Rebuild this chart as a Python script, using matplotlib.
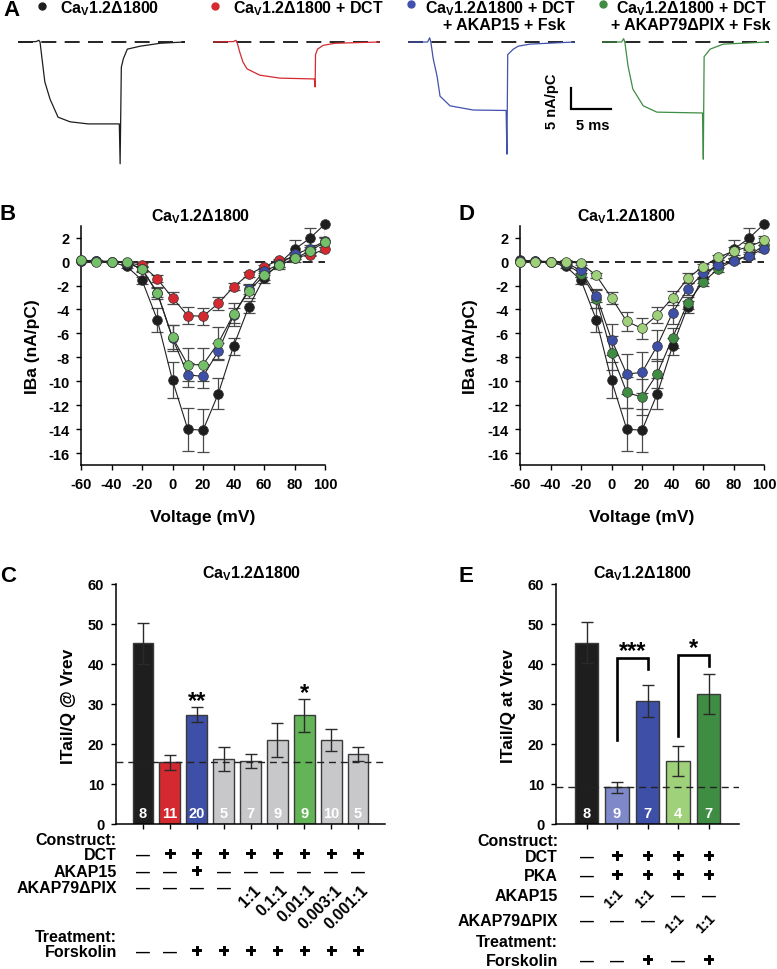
import numpy as np
import matplotlib
matplotlib.use('Agg')
import matplotlib.pyplot as plt
import matplotlib.patheffects as pe
from matplotlib.transforms import blended_transform_factory as btf

plt.rcParams.update({
    'font.family': ['Liberation Sans', 'DejaVu Sans'],
    'font.weight': 'bold',
    'axes.unicode_minus': False,
    'mathtext.fontset': 'custom',
    'mathtext.rm': 'Liberation Sans:bold',
    'mathtext.it': 'Liberation Sans:bold',
    'mathtext.bf': 'Liberation Sans:bold',
    'axes.linewidth': 1.1,
    'xtick.major.width': 1.0,
    'ytick.major.width': 1.0,
    'xtick.major.size': 3.5,
    'ytick.major.size': 3.5,
    'xtick.direction': 'out',
    'ytick.direction': 'out',
    'xtick.labelsize': 10.5,
    'ytick.labelsize': 10.5,
})

TITLE = 'Ca$_\\mathrm{V}$1.2Δ1800'

# ---------------- Panel A: representative traces (ms, nA/pC) ----------------
trace_labels = [
    ['Ca$_\\mathrm{V}$1.2Δ1800'],
    ['Ca$_\\mathrm{V}$1.2Δ1800 + DCT'],
    ['Ca$_\\mathrm{V}$1.2Δ1800 + DCT', '+ AKAP15 + Fsk'],
    ['Ca$_\\mathrm{V}$1.2Δ1800 + DCT', '+ AKAP79ΔPIX + Fsk'],
]
trace_colors = ['#1e1e1e', '#d42a2f', '#4152ad', '#3f8c43']
t_black = [-2.75, -0.5, -0.15, 0.0, 0.25, 0.6, 1.25, 2.25, 3.75, 6.0, 9.9, 10.0, 10.15, 10.4, 10.9, 12.5, 15.0, 18.0]
i_black = [0.0, 0.1, 0.4, 0.0, -4.0, -9.5, -13.6, -17.9, -19.0, -19.5, -19.5, -29.0, -6.0, -4.0, -1.7, -1.0, -0.3, 0.0]
t_red = [-2.75, -0.2, 0.1, 0.25, 0.6, 1.0, 1.5, 3.1, 5.6, 9.9, 10.0, 10.05, 10.3, 11.0, 12.5, 18.0]
i_red = [0.0, 0.1, 0.4, 0.0, -2.5, -4.8, -6.4, -7.9, -8.6, -8.8, -10.7, -3.0, -1.7, -0.8, -0.3, 0.0]
t_blue = [-2.75, -0.3, -0.05, 0.1, 0.4, 0.875, 1.25, 2.5, 5.4, 9.5, 9.6, 9.7, 10.4, 11.0, 12.5, 18.0]
i_blue = [0.0, 0.0, 1.0, 0.0, -4.0, -8.1, -12.9, -15.2, -16.2, -16.3, -26.7, -3.0, -1.7, -1.0, -0.5, 0.0]
t_green = [-2.75, -0.3, -0.05, 0.1, 0.5, 1.1, 2.4, 4.1, 9.8, 9.9, 10.0, 10.75, 12.4, 18.0]
i_green = [0.0, 0.0, 0.8, 0.0, -5.7, -11.2, -15.2, -16.7, -16.9, -27.9, -3.5, -1.7, -0.5, 0.0]
traces = [(t_black, i_black), (t_red, i_red), (t_blue, i_blue), (t_green, i_green)]
scale_ms = 5
scale_current = 5

# ---------------- Panels B & D: I-V relations ----------------
volt = [-60, -50, -40, -30, -20, -10, 0, 10, 20, 30, 40, 50, 60, 70, 80, 90, 100]
iv_black = [0.1, 0.05, -0.05, -0.4, -1.55, -4.85, -9.93, -14.0, -14.1, -11.05, -7.08, -3.78, -1.35, -0.15, 1.02, 1.94, 3.14]
iv_black_e = [0.05, 0.05, 0.05, 0.15, 0.3, 1.0, 1.5, 1.8, 1.8, 1.3, 0.7, 0.5, 0.4, 0.3, 0.8, 0.9, 1.2]
iv_red = [0.05, 0.05, 0.0, -0.1, -0.3, -1.44, -3.03, -4.51, -4.57, -3.5, -2.11, -1.07, -0.43, 0.13, 0.32, 0.58, 1.02]
iv_red_e = [0.05, 0.05, 0.05, 0.1, 0.15, 0.3, 0.5, 0.7, 0.7, 0.55, 0.3, 0.2, 0.15, 0.1, 0.1, 0.15, 0.2]
ivB_blue = [0.05, 0.05, 0.0, -0.1, -0.6, -2.6, -6.4, -9.46, -9.6, -7.5, -4.5, -2.33, -0.8, -0.24, 0.6, 1.07, 1.72]
ivB_blue_e = [0.05, 0.05, 0.05, 0.1, 0.2, 0.4, 1.1, 1.0, 1.0, 0.7, 0.6, 0.4, 0.3, 0.2, 0.2, 0.3, 0.35]
ivB_green = [0.1, 0.0, 0.0, -0.05, -0.66, -2.6, -6.33, -8.62, -8.62, -6.8, -4.42, -2.47, -1.16, -0.32, 0.26, 0.88, 1.63]
ivB_green_e = [0.05, 0.05, 0.05, 0.1, 0.2, 0.5, 1.0, 1.4, 1.4, 1.3, 1.0, 0.6, 0.4, 0.3, 0.3, 0.3, 0.4]
ivD_dgreen = [0.0, 0.0, -0.05, -0.2, -1.0, -3.1, -7.64, -10.93, -11.33, -9.37, -6.38, -3.45, -1.72, -0.6, 0.1, 0.5, 1.35]
ivD_dgreen_e = [0.05, 0.05, 0.05, 0.1, 0.3, 0.8, 1.4, 1.3, 1.5, 1.2, 0.8, 0.5, 0.3, 0.3, 0.2, 0.3, 0.3]
ivD_blue = [0.05, 0.05, 0.0, -0.1, -0.74, -2.84, -6.52, -9.4, -9.26, -7.03, -4.29, -2.28, -0.99, -0.32, 0.07, 0.46, 1.08]
ivD_blue_e = [0.05, 0.05, 0.05, 0.1, 0.2, 0.5, 1.3, 1.7, 1.7, 1.3, 0.9, 0.5, 0.3, 0.2, 0.2, 0.2, 0.3]
ivD_lgreen = [0.0, 0.0, 0.0, 0.0, -0.15, -1.16, -3.03, -5.0, -5.58, -4.46, -3.03, -1.39, -0.41, 0.35, 0.88, 1.24, 1.77]
ivD_lgreen_e = [0.05, 0.05, 0.05, 0.1, 0.1, 0.2, 0.5, 0.8, 0.9, 0.7, 0.6, 0.4, 0.2, 0.2, 0.3, 0.3, 0.4]
volt_ticks = [-60, -40, -20, 0, 20, 40, 60, 80, 100]
iv_ticks = [2, 0, -2, -4, -6, -8, -10, -12, -14, -16]

C_BLACK, C_RED, C_BLUE = '#1e1e1e', '#d42a2f', '#3d4fa6'
C_LGREEN, C_DGREEN, C_LBLUE, C_GRAY, C_GREEN = '#9fd07a', '#3f8c43', '#7f89c9', '#c8c8cb', '#63b457'

# ---------------- Panel C ----------------
c_vals = [45.2, 15.4, 27.3, 16.2, 15.8, 21.0, 27.2, 21.0, 17.5]
c_errs = [5.1, 1.9, 1.9, 3.0, 1.8, 4.3, 4.1, 2.7, 1.8]
c_n = [8, 11, 20, 5, 7, 9, 9, 10, 5]
c_colors = [C_BLACK, C_RED, C_BLUE, C_GRAY, C_GRAY, C_GRAY, C_GREEN, C_GRAY, C_GRAY]
c_stars = {2: '**', 6: '*'}
c_rows = [
    ('DCT', ['—', '+', '+', '+', '+', '+', '+', '+', '+']),
    ('AKAP15', ['—', '—', '+', '—', '—', '—', '—', '—', '—']),
    ('AKAP79ΔPIX', ['—', '—', '—', '—', '1:1', '0.1:1', '0.01:1', '0.003:1', '0.001:1']),
    ('Forskolin', ['—', '—', '+', '+', '+', '+', '+', '+', '+']),
]
# ---------------- Panel E ----------------
e_vals = [45.3, 9.2, 30.8, 15.8, 32.4]
e_errs = [5.1, 1.4, 4.0, 3.7, 5.0]
e_n = [8, 9, 7, 4, 7]
e_colors = [C_BLACK, C_LBLUE, C_BLUE, C_LGREEN, C_DGREEN]
e_brackets = [(1, 2, 21.0, 41.4, 38.7, '***'), (3, 4, 22.0, 42.3, 39.4, '*')]
e_rows = [
    ('DCT', ['—', '+', '+', '+', '+']),
    ('PKA', ['—', '+', '+', '+', '+']),
    ('AKAP15', ['—', '1:1', '1:1', '—', '—']),
    ('AKAP79ΔPIX', ['—', '—', '—', '1:1', '1:1']),
    ('Forskolin', ['—', '—', '+', '—', '+']),
]
bar_ticks = [0, 10, 20, 30, 40, 50, 60]

# ============================================================
W, H = 777, 970
fig = plt.figure(figsize=(W / 100, H / 100), dpi=100)


def rect(l, t, r, b):
    return [l / W, 1 - b / H, (r - l) / W, (b - t) / H]


ov = fig.add_axes([0, 0, 1, 1], zorder=10)
ov.set_xlim(0, W)
ov.set_ylim(H, 0)
ov.axis('off')
ov.patch.set_alpha(0)


def T(x, y, s, **kw):
    kw.setdefault('ha', 'center')
    kw.setdefault('va', 'center')
    ov.text(x, y, s, **kw)


# panel letters
for L, x, y in [('A', 11, 11), ('B', 8, 215), ('D', 467, 215), ('C', 8, 577), ('E', 466, 577)]:
    T(x, y, L, fontsize=16)

# ---- Panel A ----
trace_left = [18, 213, 408, 602]
bullet_xy = [(42, 7), (215, 7), (411, 5), (603, 5)]
label_xy = [[(60, 13.5, 'left')], [(233, 13.5, 'left')],
            [(500, 13.5, 'center'), (504, 30, 'center')],
            [(691, 13.5, 'center'), (691, 30, 'center')]]
axA = []
for k in range(4):
    a = fig.add_axes(rect(trace_left[k], 33, trace_left[k] + 167, 170))
    a.set_xlim(-2.75, 18.1)
    a.set_ylim(-(170 - 43) / 4.2, (43 - 33) / 4.2)
    a.axis('off')
    a.axhline(0, color='black', lw=1.2, ls=(0, (9, 5)))
    a.plot(traces[k][0], traces[k][1], color=trace_colors[k], lw=0.9)
    axA.append(a)
    ov.plot(*bullet_xy[k], 'o', color=trace_colors[k], ms=5)
    for (x, y, ha), s in zip(label_xy[k], trace_labels[k]):
        ov.text(x, y, s, ha=ha, va='baseline', fontsize=11.5)

# scale bar drawn in data units of the blue trace axes
sb = axA[2]
x0, y0 = 17.6, -16.0
sb.plot([x0, x0, x0 + scale_ms], [y0 + scale_current, y0, y0], color='black', lw=1.6,
        clip_on=False, solid_joinstyle='miter')
T(552, 101, f'{scale_current} nA/pC', rotation=90, fontsize=10.5)
T(593, 126, f'{scale_ms} ms', fontsize=10.5)


# ---- Panels B & D ----
def iv_axes(left, series):
    ax = fig.add_axes(rect(left, 226.7, left + 244, 466))
    ax.set_xlim(-60, 100)
    ax.set_ylim(-17, 3)
    for s in ['top', 'right']:
        ax.spines[s].set_visible(False)
    ax.set_xticks(volt_ticks)
    ax.set_yticks(iv_ticks)
    ax.tick_params(axis='both', pad=5)
    ax.axhline(0, color='black', lw=1.2, ls=(0, (6, 3.5)), zorder=1)
    for y, e, c in series:
        ax.errorbar(volt, y, yerr=e, fmt='none', ecolor='#4a4a4a', elinewidth=0.9,
                    capsize=4, capthick=0.9, zorder=2)
    for y, e, c in series:
        ax.plot(volt, y, color='#222222', lw=0.8, zorder=3)
    for y, e, c in series:
        ax.plot(volt, y, 'o', color=c, ms=7, mec='#333333', mew=0.5, zorder=4, clip_on=False)
    return ax


axB = iv_axes(81, [(iv_black, iv_black_e, C_BLACK), (iv_red, iv_red_e, C_RED),
                   (ivB_blue, ivB_blue_e, C_BLUE), (ivB_green, ivB_green_e, '#74c069')])
axD = iv_axes(520, [(iv_black, iv_black_e, C_BLACK), (ivD_dgreen, ivD_dgreen_e, C_DGREEN),
                    (ivD_blue, ivD_blue_e, C_BLUE), (ivD_lgreen, ivD_lgreen_e, C_LGREEN)])
T(201, 221, TITLE, va='baseline', fontsize=11.5)
T(627, 221, TITLE, va='baseline', fontsize=11.5)
for x in (33, 470):
    T(x, 347, 'IBa (nA/pC)', rotation=90, fontsize=12.5)
T(203, 518, 'Voltage (mV)', fontsize=12.5)
T(642, 518, 'Voltage (mV)', fontsize=12.5)


# ---- Panels C & E ----
def bar_axes(l, r, vals, errs, ns, colors, xlim):
    ax = fig.add_axes(rect(l, 585, r, 825))
    x = np.arange(len(vals))
    ax.bar(x, vals, width=0.77, color=colors, edgecolor='#3a3a3a', lw=1.0, zorder=2)
    ax.errorbar(x, vals, yerr=errs, fmt='none', ecolor='#2a2a2a', elinewidth=1.0,
                capsize=4.5, capthick=1.0, zorder=3)
    ax.axhline(vals[1], color='#222222', lw=1.0, ls=(0, (5, 3.5)), zorder=4)
    for xi, n in zip(x, ns):
        ax.text(xi, 2.7, str(n), ha='center', va='center', color='white', fontsize=10.5, zorder=5)
    ax.set_xlim(*xlim)
    ax.set_ylim(0, 60)
    ax.set_yticks(bar_ticks)
    ax.set_xticks(x)
    ax.set_xticklabels([])
    for s in ['top', 'right']:
        ax.spines[s].set_visible(False)
    ax.tick_params(axis='y', pad=5)
    return ax


axC = bar_axes(116, 385, c_vals, c_errs, c_n, c_colors, (-1.0, 9.0))
axE = bar_axes(556, 739, e_vals, e_errs, e_n, e_colors, (-1.0, 5.0))
for i, s in c_stars.items():
    axC.text(i, c_vals[i] + c_errs[i] - 1.3, s, ha='center', va='bottom', fontsize=17)
for a, b, ylo, ytop, yb, s in e_brackets:
    axE.plot([a, a, b, b], [ylo, ytop, ytop, yb], color='black', lw=1.9,
             solid_joinstyle='miter', zorder=5)
    axE.text((a + b) / 2, ytop - 1.0, s, ha='center', va='bottom', fontsize=17)
T(252, 578, TITLE, va='baseline', fontsize=11.5)
T(643, 578, TITLE, va='baseline', fontsize=11.5)
T(68, 706, 'ITail/Q @ Vrev', rotation=90, fontsize=12.5)
T(508, 706, 'ITail/Q at Vrev', rotation=90, fontsize=12.5)

thick = [pe.withStroke(linewidth=0.7, foreground='black')]


def table(ax, label_x, hdr, rows_y, rows, ratio_style):
    tr = btf(ax.transData, ov.transData)
    for s, y in hdr:
        T(label_x, y, s, ha='right', fontsize=11.5)
    for (name, cells), y in zip(rows, rows_y):
        T(label_x, y, name, ha='right', fontsize=11.5)
        for i, c in enumerate(cells):
            if c == '+':
                ax.text(i, y, c, transform=tr, ha='center', va='center', fontsize=13.5,
                        clip_on=False, path_effects=thick)
            elif c == '—':
                ax.text(i, y, c, transform=tr, ha='center', va='center', fontsize=10,
                        clip_on=False)
            else:
                dx, dy, ha, fs = ratio_style
                ax.text(i + dx, y + dy, c, transform=tr, ha=ha, va='center', fontsize=fs,
                        rotation=45, rotation_mode='anchor', clip_on=False)


table(axC, 117, [('Construct:', 841), ('Treatment:', 938)], [856, 873, 889, 953], c_rows,
      (0.3, -1, 'right', 11.5))
table(axE, 558, [('Construct:', 842), ('Treatment:', 943)], [858, 877, 897, 922, 962], e_rows,
      (-0.1, 2, 'center', 10.5))

fig.savefig('out.png', dpi=100)
